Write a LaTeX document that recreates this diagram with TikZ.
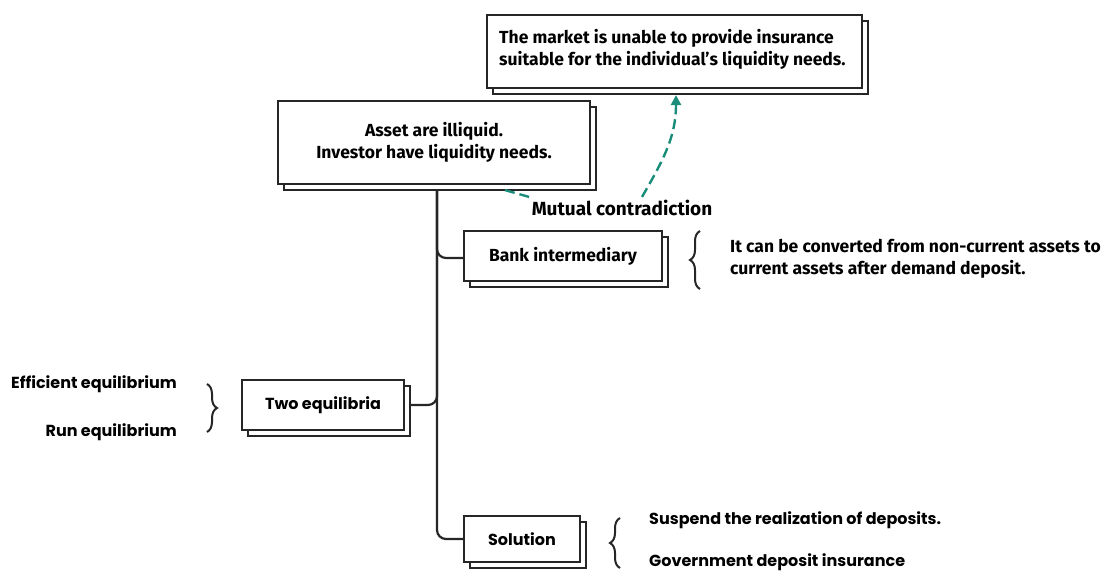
\documentclass[tikz,border=0pt]{standalone}
\usepackage{fontspec}
\setmainfont{Fira Sans}
\newfontfamily\geo{Poppins}
\usetikzlibrary{shadows,decorations.pathreplacing,arrows.meta}
\definecolor{teal1}{HTML}{1A8C7A}
\begin{document}
\begin{tikzpicture}[x=1pt,y=-1pt,
  box/.style={draw=black!85,line width=2.2pt,fill=white,
    copy shadow={shadow xshift=6pt,shadow yshift=-6pt,draw=black!85,line width=2.2pt,fill=white},
    inner sep=0pt,font=\fontsize{17.5}{22}\selectfont\bfseries},
  txt/.style={inner sep=0pt,font=\fontsize{17.5}{22}\selectfont\bfseries,align=left},
  geotxt/.style={inner sep=0pt,font=\geo\fontsize{16}{19}\selectfont\bfseries},
  conn/.style={line width=2.2pt,draw=black!85,rounded corners=9pt},
  br/.style={line width=2pt,draw=black!85,decorate,decoration={brace,amplitude=10pt}},
  tealdash/.style={teal1,line width=2.4pt,dash pattern=on 10pt off 5pt}]
\useasboundingbox (0,0) rectangle (1102,572);
\clip (0,0) rectangle (1102,572);
% trunk first (behind boxes)
\coordinate (t) at (437,186);
\draw[conn] (t) |- (463,258);
\draw[conn] (t) |- (463,539);
\draw[conn] (409,405) -| (t);
% boxes
\node[box,minimum width=375pt,minimum height=73pt] (top) at (674.5,51.5) {};
\node[txt,anchor=west] (toptxt) at (499,49)
  {The market is unable to provide insurance\\suitable for the individual's liquidity needs.};
\node[box,minimum width=312pt,minimum height=83pt,align=center] (main) at (434,142.5)
  {Asset are illiquid.\\Investor have liquidity needs.};
\node[box,minimum width=198pt,minimum height=50pt] (bank) at (563,256) {Bank intermediary};
\node[box,minimum width=162pt,minimum height=50pt,font=\geo\fontsize{16}{19}\selectfont\bfseries] (two) at (323,405) {Two equilibria};
\node[box,minimum width=116pt,minimum height=46pt,font=\geo\fontsize{16}{19}\selectfont\bfseries] (sol) at (522,539) {Solution};
% mutual contradiction
\node[inner sep=1pt,font=\fontsize{19}{22}\selectfont\bfseries] (mc) at (622,208) {Mutual contradiction};
\coordinate (ms) at ([xshift=71pt,yshift=-5pt]main.south);
\draw[tealdash] (ms) -- ([xshift=2pt,yshift=1pt]mc.north west);
\draw[tealdash,-{Triangle[length=10pt,width=10pt]}] ([xshift=20pt,yshift=2pt]mc.north) to[out=60,in=-90] ([xshift=1.5pt,yshift=-6pt]top.south);
% bank description
\draw[br] (700,289) -- (700,231);
\node[txt,anchor=west] (bd) at (730,259) {It can be converted from non-current assets to\\current assets after demand deposit.};
% two equilibria
\draw[br] (207,384) -- (207,432);
\node[geotxt,anchor=east] (ee) at (177,384) {Efficient equilibrium};
\node[geotxt,anchor=east] (re) at (177,432) {Run equilibrium};
% solution
\draw[br] (620,568) -- (620,518);
\node[geotxt,anchor=west] (s1) at (649,520) {Suspend the realization of deposits.};
\node[geotxt,anchor=west] (s2) at (649,562) {Government deposit insurance};
\end{tikzpicture}
\end{document}
